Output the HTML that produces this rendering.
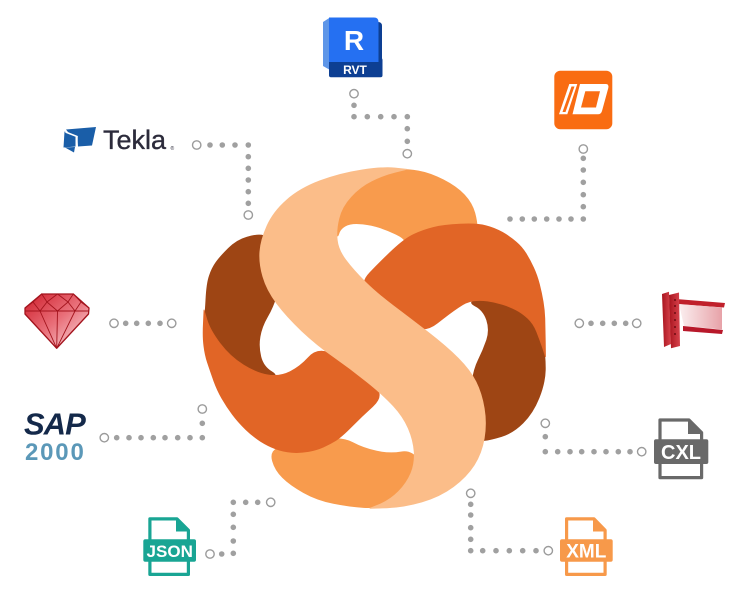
<!DOCTYPE html>
<html>
<head>
<meta charset="utf-8">
<style>
html,body{margin:0;padding:0;background:#fff;width:750px;height:601px;overflow:hidden}
svg{display:block}
text{font-family:"Liberation Sans",sans-serif}
</style>
</head>
<body>
<svg width="750" height="601" viewBox="0 0 750 601" xmlns="http://www.w3.org/2000/svg">
<defs>
<linearGradient id="gem" x1="0" y1="0" x2="1" y2="1">
<stop offset="0" stop-color="#CF1E2B"/>
<stop offset="0.5" stop-color="#E9707A"/>
<stop offset="1" stop-color="#FBE3E6"/>
</linearGradient>
<linearGradient id="beam" x1="0" y1="0" x2="1" y2="0">
<stop offset="0" stop-color="#FBEFF0"/>
<stop offset="1" stop-color="#E7A2A8"/>
</linearGradient>
<linearGradient id="col" x1="0" y1="0" x2="1" y2="0">
<stop offset="0" stop-color="#A8141E"/>
<stop offset="1" stop-color="#D8434C"/>
</linearGradient>
</defs>

<!-- ===== Central logo ===== -->
<g stroke-linejoin="round" stroke-width="0.8">
<!-- back light-orange pieces -->
<path fill="#F89B4D" stroke="#F89B4D" d="M 418.4,171 Q 430,173 443.4,179.9 Q 456.7,186.7 464.4,194.9 Q 472,203 474.8,213 Q 477.5,223 477.1,230.5 Q 476.7,238 440.9,242 Q 405,246 405,242.2 Q 405,238.3 395,233.7 Q 385,229 376,226.5 Q 367,224 358.5,223.7 Q 350,223.3 345,226.2 Q 340,229 338.5,234.5 Q 337,240 333.5,225 Q 330,210 340,197.5 Q 350,185 365,177.5 Q 380,170 393.4,169.5 Q 406.7,169 418.4,171 Z"/>
<path fill="#F89B4D" stroke="#F89B4D" d="M 277.5,448.4 Q 285,445 297.5,444 Q 310,443 325.9,439.9 Q 341.7,436.7 352.5,442.5 Q 363.3,448.3 376.7,451.2 Q 390,454 400.9,452 Q 411.7,450 418.4,460 Q 425,470 420,485 Q 415,500 395.9,504.2 Q 376.7,508.3 363.4,507.5 Q 350,506.7 333.4,503.4 Q 316.7,500 303.4,492.5 Q 290,485 282.5,477.5 Q 275,470 272.5,460.9 Q 270,451.7 277.5,448.4 Z"/>
<!-- brown pieces -->
<path fill="#9E4514" stroke="#9E4514" d="M 205.9,300 Q 206.7,283.3 209.4,275.7 Q 212,268 216,262.4 Q 220,256.7 228.4,248.4 Q 236.7,240 246.7,237.2 Q 256.7,234.3 261.7,235.2 Q 266.7,236 271.7,243 Q 276.7,250 278.4,266.7 Q 280,283.3 276.7,295 Q 273.3,306.7 267.5,316.7 Q 261.7,326.7 260,336.7 Q 258.3,346.7 260.8,356.7 Q 263.3,366.7 271.7,371.7 Q 280,376.7 268.4,378.4 Q 256.7,380 239.9,370 Q 223,360 213,341.5 Q 203,323 204,319.9 Q 205,316.7 205.9,300 Z"/>
<path fill="#9E4514" stroke="#9E4514" d="M 478.4,298.9 Q 490,296 505,298 Q 520,300 530,310 Q 540,320 542.8,338.4 Q 545.5,356.7 545.3,369.9 Q 545,383 539,398 Q 533,413 523,423 Q 513,433 501.5,436.5 Q 490,440 484,440.5 Q 478,441 474,420.5 Q 470,400 471.7,385 Q 473.3,370 478.3,360 Q 483.3,350 486.7,340 Q 490,330 486.7,320 Q 483.3,310 475,305.9 Q 466.7,301.7 478.4,298.9 Z"/>
<!-- dark orange band -->
<path fill="#E16526" stroke="#E16526" d="M 370,272.5 Q 380,262 392.5,250.2 Q 405,238.3 414.2,234.2 Q 423.3,230 433.3,227.5 Q 443.3,225 460,224.2 Q 476.7,223.3 485.9,225.7 Q 495,228 502.5,232.4 Q 510,236.7 516,241.9 Q 522,247 526,253.5 Q 530,260 533.5,267.5 Q 537,275 539.4,284.2 Q 541.7,293.3 543.1,301.7 Q 544.5,310 544.8,318.4 Q 545,326.7 545.3,341.7 L 545.5,356.7 L 542.8,348.4 Q 540,340 536.7,331.7 Q 533.3,323.3 527.7,318.2 Q 522,313 516,309.9 Q 510,306.7 502.5,304.4 Q 495,302 487.5,301 Q 480,300 473.4,300.9 Q 466.7,301.7 458.4,307.4 Q 450,313 437.5,323 Q 425,333 412.5,326.5 Q 400,320 387.5,307.5 Q 375,295 367.5,289 Q 360,283 370,272.5 Z"/>
<path fill="#E16526" stroke="#E16526" d="M 203.4,323.4 Q 202.7,336.7 203.9,345.9 Q 205,355 207.5,362.5 Q 210,370 213.5,380 Q 217,390 221.9,398.4 Q 226.7,406.7 232.4,414.4 Q 238,422 245.7,429.4 Q 253.3,436.7 260.7,441.4 Q 268,446 275.7,448.9 Q 283.3,451.7 291.7,452.4 Q 300,453 308.4,451.5 Q 316.7,450 323.4,447 Q 330,444 335.9,440.4 Q 341.7,436.7 351.9,426.4 Q 362,416 372.7,406.4 Q 383.3,396.7 376.7,388.4 Q 370,380 355,368.4 Q 340,356.7 328.4,352.5 Q 316.7,348.3 308.4,357.5 Q 300,366.7 290,371.7 Q 280,376.7 268.4,375 Q 256.7,373.3 243.4,365 Q 230,356.7 220,343.4 Q 210,330 207,320 L 204,310 Z"/>
<!-- peach S -->
<path fill="#FBBD89" stroke="#FBBD89" d="M 406.7,169.3 L 395,168 Q 383.3,166.7 361.7,170 Q 340,173.3 320,180.8 Q 300,188.3 286.7,200 Q 273.3,211.7 267,225.9 Q 260.7,240 259.9,251.7 Q 259,263.3 262.9,276.7 Q 266.7,290 276.7,303.4 Q 286.7,316.7 301.7,330.9 Q 316.7,345 333.4,356.7 Q 350,368.3 366.7,381.7 Q 383.3,395 393.3,405.9 Q 403.3,416.7 408.3,428.4 Q 413.3,440 414.2,451.7 Q 415,463.3 410.9,473.3 Q 406.7,483.3 398.4,491.7 Q 390,500 380,504.2 L 370,508.3 L 386.7,507.8 Q 403.3,507.3 421.7,502 Q 440,496.7 453.4,486.7 Q 466.7,476.7 474.2,465 Q 481.7,453.3 484.2,438.3 Q 486.7,423.3 484.2,408.3 Q 481.7,393.3 475.9,381.7 Q 470,370 458.4,358.4 Q 446.7,346.7 428.4,332.5 Q 410,318.3 393.4,305.8 Q 376.7,293.3 365,281.7 Q 353.3,270 345.8,260 Q 338.3,250 337.2,240 Q 336,230 338.9,218.4 Q 341.7,206.7 350.9,196.7 Q 360,186.7 371.7,180.9 Q 383.3,175 395,172.2 Z"/>
</g>

<!-- ===== Connectors ===== -->
<g fill="#A0A0A0">
<!-- Revit -->
<circle cx="354" cy="105.3" r="2.8"/><circle cx="354" cy="116.7" r="2.8"/><circle cx="367.3" cy="116.7" r="2.8"/><circle cx="380.7" cy="116.7" r="2.8"/><circle cx="394" cy="116.7" r="2.8"/><circle cx="407.3" cy="116.7" r="2.8"/><circle cx="407.3" cy="128.7" r="2.8"/><circle cx="407.3" cy="141.3" r="2.8"/>
<!-- Tekla -->
<circle cx="210" cy="145" r="2.8"/><circle cx="222.3" cy="145" r="2.8"/><circle cx="235" cy="145" r="2.8"/><circle cx="248.3" cy="145" r="2.8"/><circle cx="248.3" cy="156.7" r="2.8"/><circle cx="248.3" cy="168.3" r="2.8"/><circle cx="248.3" cy="180" r="2.8"/><circle cx="248.3" cy="191.7" r="2.8"/><circle cx="248.3" cy="203.3" r="2.8"/>
<!-- ID -->
<circle cx="583.3" cy="158.3" r="2.8"/><circle cx="583.3" cy="170" r="2.8"/><circle cx="583.3" cy="182.3" r="2.8"/><circle cx="583.3" cy="194.7" r="2.8"/><circle cx="583.3" cy="206.7" r="2.8"/><circle cx="583.3" cy="219" r="2.8"/><circle cx="510" cy="219" r="2.8"/><circle cx="522.3" cy="219" r="2.8"/><circle cx="534.3" cy="219" r="2.8"/><circle cx="546.7" cy="219" r="2.8"/><circle cx="559" cy="219" r="2.8"/><circle cx="571" cy="219" r="2.8"/>
<!-- Ruby -->
<circle cx="125.7" cy="323.3" r="2.8"/><circle cx="136.7" cy="323.3" r="2.8"/><circle cx="148.3" cy="323.3" r="2.8"/><circle cx="160" cy="323.3" r="2.8"/>
<!-- SAP -->
<circle cx="116.7" cy="437.7" r="2.8"/><circle cx="129" cy="437.7" r="2.8"/><circle cx="141" cy="437.7" r="2.8"/><circle cx="153.3" cy="437.7" r="2.8"/><circle cx="165" cy="437.7" r="2.8"/><circle cx="177.7" cy="437.7" r="2.8"/><circle cx="190" cy="437.7" r="2.8"/><circle cx="202.3" cy="437.7" r="2.8"/><circle cx="202.3" cy="423.3" r="2.8"/>
<!-- Steel -->
<circle cx="591" cy="323.3" r="2.8"/><circle cx="602.7" cy="323.3" r="2.8"/><circle cx="614.3" cy="323.3" r="2.8"/><circle cx="625.7" cy="323.3" r="2.8"/>
<!-- CXL -->
<circle cx="545.3" cy="436.7" r="2.8"/><circle cx="545.3" cy="451.7" r="2.8"/><circle cx="557.7" cy="451.7" r="2.8"/><circle cx="570" cy="451.7" r="2.8"/><circle cx="581.7" cy="451.7" r="2.8"/><circle cx="594" cy="451.7" r="2.8"/><circle cx="606" cy="451.7" r="2.8"/><circle cx="618.3" cy="451.7" r="2.8"/><circle cx="630" cy="451.7" r="2.8"/>
<!-- JSON -->
<circle cx="257.7" cy="502.3" r="2.8"/><circle cx="245.7" cy="502.3" r="2.8"/><circle cx="233.3" cy="502.3" r="2.8"/><circle cx="233.3" cy="514.3" r="2.8"/><circle cx="233.3" cy="527.3" r="2.8"/><circle cx="233.3" cy="541" r="2.8"/><circle cx="233.3" cy="553.3" r="2.8"/><circle cx="221.7" cy="554" r="2.8"/>
<!-- XML -->
<circle cx="470.7" cy="504.3" r="2.8"/><circle cx="470.7" cy="515" r="2.8"/><circle cx="470.7" cy="527.7" r="2.8"/><circle cx="470.7" cy="539.3" r="2.8"/><circle cx="470.7" cy="550.7" r="2.8"/><circle cx="482.7" cy="550.7" r="2.8"/><circle cx="496" cy="550.7" r="2.8"/><circle cx="509.3" cy="550.7" r="2.8"/><circle cx="522.7" cy="550.7" r="2.8"/><circle cx="536" cy="550.7" r="2.8"/>
</g>
<g fill="#fff" stroke="#9B9B9B" stroke-width="1.4">
<circle cx="354" cy="93.7" r="4.2"/><circle cx="407.3" cy="153.7" r="4.2"/>
<circle cx="196.7" cy="145" r="4.2"/><circle cx="248.3" cy="215" r="4.2"/>
<circle cx="583.3" cy="149" r="4.2"/>
<circle cx="114" cy="323.3" r="4.2"/><circle cx="171.7" cy="323.3" r="4.2"/>
<circle cx="104.3" cy="437.7" r="4.2"/><circle cx="202.3" cy="409" r="4.2"/>
<circle cx="579.3" cy="323.3" r="4.2"/><circle cx="636.7" cy="323.3" r="4.2"/>
<circle cx="545.3" cy="423.3" r="4.2"/><circle cx="641.7" cy="451.7" r="4.2"/>
<circle cx="270.7" cy="502.3" r="4.2"/><circle cx="210" cy="554" r="4.2"/>
<circle cx="470.7" cy="493.3" r="4.2"/><circle cx="548.3" cy="550.7" r="4.2"/>
</g>

<!-- ===== Revit ===== -->
<polygon points="323,22 330,17.5 330,70 323,66" fill="#5E96E8"/>
<path d="M330,62 H382 V26 Q382,22 378,22 L378,62 Z" fill="#0D3F93"/>
<rect x="329" y="58" width="53.5" height="19.3" rx="2" fill="#0D3F93"/>
<path d="M329,17.5 H374 Q378.5,17.5 378.5,22 V62 H329 Z" fill="#2570F2"/>
<text x="354" y="50" text-anchor="middle" font-size="28" font-weight="bold" fill="#fff">R</text>
<text x="355" y="74" text-anchor="middle" font-size="12" font-weight="bold" fill="#fff">RVT</text>

<!-- ===== Tekla ===== -->
<polygon points="66,129.5 96,127 92,145.5 78,146.5 77.5,137.5 69.5,134" fill="#1A5EA8"/>
<polygon points="64.5,131.5 75.5,136 75.5,146.5 63.5,147.5" fill="#1A5EA8"/>
<polygon points="65,147.5 75,147 74,152.5" fill="#1A5EA8"/>
<polyline points="65.5,132 77,136.5 76.5,147" fill="none" stroke="#fff" stroke-width="1.6"/>
<text x="103" y="149" font-size="27" fill="#2C2B3B" stroke="#2C2B3B" stroke-width="0.35">Tekla</text>
<text x="170.5" y="150" font-size="5" fill="#2C2B3B">®</text>

<!-- ===== ID ===== -->
<rect x="554.3" y="70.7" width="58" height="58.6" rx="6" fill="#F96C12"/>
<polygon points="569.3,84 577.3,84 567.3,114.3 559,114.3" fill="#fff"/>
<path d="M580,84 H606 Q609,84 608.3,88 L602,111 Q601,114.3 598,114.3 H572.5 Z M585.3,91.2 L581,107.5 H596 L600,91.2 Z" fill="#fff" fill-rule="evenodd"/>
<polygon points="571.5,86.5 574.5,86.5 565.5,112 562.5,112" fill="#F96C12"/>

<!-- ===== Ruby gem ===== -->
<polygon points="41.7,294 73.3,294 89,308 88.5,314 56.7,348.3 25,314 25,308" fill="url(#gem)" stroke="#A3141D" stroke-width="1.3" stroke-linejoin="round"/>
<g stroke="#A3141D" stroke-width="0.9" fill="none">
<line x1="25" y1="311" x2="89" y2="311"/>
<polyline points="25,308 33,302 41.7,294 47,302 57.5,294 68,302 73.3,294 81,302 89,308"/>
<polyline points="33,302 40,311 47,302 57.5,311 68,302 75,311 81,302"/>
<polyline points="25,314 56.7,348.3 40,311"/>
<line x1="57.5" y1="311" x2="56.7" y2="348.3"/>
<polyline points="75,311 56.7,348.3 88.5,314"/>
</g>

<!-- ===== SAP 2000 ===== -->
<text x="24" y="434.3" font-size="31" font-weight="bold" font-style="italic" fill="#14294A" letter-spacing="-1">SAP</text>
<text x="25" y="460" font-size="24" font-weight="bold" fill="#5B98B8" letter-spacing="1.8">2000</text>

<!-- ===== Steel beam ===== -->
<polygon points="662,294 669,291.7 671,344 664,347" fill="url(#col)"/>
<polygon points="676,299 725,303 724,307.5 676,304" fill="#C0202B"/>
<polygon points="679,304 722,307.5 722,329.5 684,326" fill="url(#beam)"/>
<polygon points="683,326 723,330 722,334 683,331" fill="#B8182A"/>
<polygon points="669,295 679,292.5 680,346 671,348.3" fill="url(#col)"/>
<g fill="#6E0C12">
<circle cx="675" cy="300" r="1"/><circle cx="675" cy="306" r="1"/><circle cx="675" cy="313" r="1"/><circle cx="675" cy="320" r="1"/><circle cx="675" cy="327" r="1"/><circle cx="675" cy="334" r="1"/>
</g>

<!-- ===== CXL ===== -->
<path d="M660,420 H689 L701.6,432.6 V477.6 H660 Z" fill="none" stroke="#696969" stroke-width="3.2" stroke-linejoin="round"/>
<path d="M688,419 V434 H703 Z" fill="#696969"/>
<rect x="654" y="439.3" width="54.3" height="24.7" rx="2" fill="#696969"/>
<text x="681" y="459" text-anchor="middle" font-size="20" font-weight="bold" fill="#fff">CXL</text>

<!-- ===== JSON ===== -->
<path d="M149.9,518.9 H177 L188.4,530.3 V574.4 H149.9 Z" fill="none" stroke="#19A594" stroke-width="3.2" stroke-linejoin="round"/>
<path d="M176,518 V531.5 H189.6 Z" fill="#19A594"/>
<rect x="143.3" y="539.3" width="52.7" height="22.4" rx="2" fill="#19A594"/>
<text x="169.7" y="556.8" text-anchor="middle" font-size="17" font-weight="bold" fill="#fff">JSON</text>

<!-- ===== XML ===== -->
<path d="M566.6,518.9 H594 L605.1,530.3 V574.4 H566.6 Z" fill="none" stroke="#F7994A" stroke-width="3.2" stroke-linejoin="round"/>
<path d="M593,518 V531.5 H606.3 Z" fill="#F7994A"/>
<rect x="560" y="539.3" width="52.7" height="22.4" rx="2" fill="#F7994A"/>
<text x="586.3" y="557.5" text-anchor="middle" font-size="19" font-weight="bold" fill="#fff">XML</text>
</svg>
</body>
</html>
